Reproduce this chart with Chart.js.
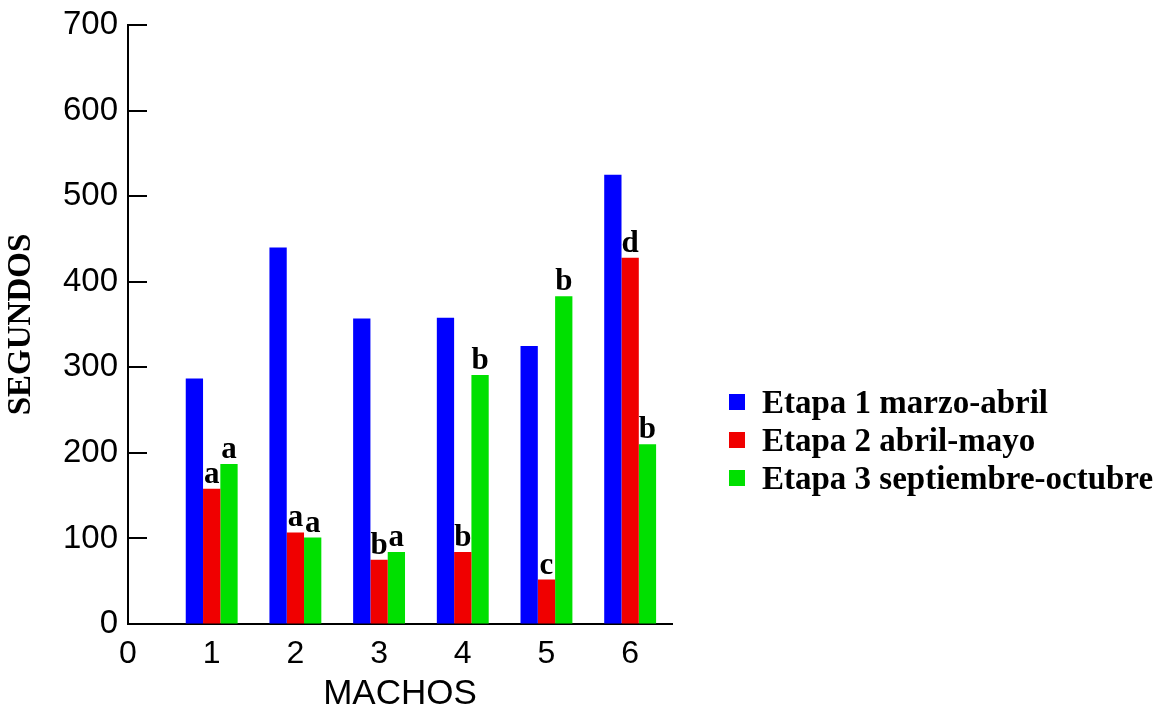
<!DOCTYPE html>
<html>
<head>
<meta charset="utf-8">
<script src="https://cdn.jsdelivr.net/npm/chart.js@4"></script>
<style>
  html, body { margin: 0; padding: 0; background: #fff; }
  #wrap { position: relative; width: 1173px; height: 715px; }
  #legend { position: absolute; left: 729px; top: 383px; font: bold 33px "Liberation Serif", "Times New Roman", serif; color: #000; }
  .item { display: flex; align-items: center; height: 38px; white-space: nowrap; }
  .box { width: 16px; height: 16px; margin-right: 17px; }
</style>
</head>
<body>
<div id="wrap">
  <canvas id="chart" width="1173" height="715"></canvas>
  <div id="legend"></div>
</div>
<script>
// machos 1..6, tiempo en segundos por etapa
const machos = [1, 2, 3, 4, 5, 6];
const etapa1 = [287, 440, 357, 358, 325, 525];
const etapa2 = [158, 107, 75, 84, 52, 428];
const etapa3 = [187, 101, 84, 291, 383, 210];
const letras2 = ['a', 'a', 'b', 'b', 'c', 'd'];
const letras3 = ['a', 'a', 'a', 'b', 'b', 'b'];
const nombres = ['Etapa 1 marzo-abril', 'Etapa 2 abril-mayo', 'Etapa 3 septiembre-octubre'];
const colores = ['#0000ff', '#f00000', '#00e000'];
const xTicks = [0, 1, 2, 3, 4, 5, 6];

function puntos(vals) {
    return machos.map((m, i) => ({ x: m, y: vals[i] }));
}

// letters over the bars
const letrasPlugin = {
    id: 'letras',
    afterDatasetsDraw(chart) {
        const ctx = chart.ctx;
        ctx.save();
        ctx.font = 'bold 31px "Liberation Serif", serif';
        ctx.fillStyle = '#000';
        ctx.textAlign = 'center';
        ctx.textBaseline = 'alphabetic';
        chart.data.datasets.forEach((ds, i) => {
            if (!ds.letras) return;
            chart.getDatasetMeta(i).data.forEach((bar, j) => {
                ctx.fillText(ds.letras[j], bar.x, bar.y - 6);
            });
        });
        ctx.restore();
    }
};

// y ticks pointing into the plot
const ticksDentro = {
    id: 'ticksDentro',
    afterDraw(chart) {
        const y = chart.scales.y;
        const ctx = chart.ctx;
        ctx.save();
        ctx.strokeStyle = '#000';
        ctx.lineWidth = 2;
        y.ticks.forEach(t => {
            if (t.value === 0) return;
            const py = Math.round(y.getPixelForValue(t.value));
            ctx.beginPath();
            ctx.moveTo(y.right, py);
            ctx.lineTo(y.right + 19, py);
            ctx.stroke();
        });
        ctx.restore();
    }
};

const ctx = document.getElementById('chart').getContext('2d');
const chart = new Chart(ctx, {
    type: 'bar',
    data: {
        datasets: [
            { label: nombres[0], data: puntos(etapa1), backgroundColor: colores[0] },
            { label: nombres[1], data: puntos(etapa2), backgroundColor: colores[1], letras: letras2 },
            { label: nombres[2], data: puntos(etapa3), backgroundColor: colores[2], letras: letras3 }
        ]
    },
    options: {
        responsive: false,
        animation: false,
        layout: { padding: { top: 25, right: 501, left: 0, bottom: 0 } },
        datasets: { bar: { categoryPercentage: 0.62, barPercentage: 1 } },
        plugins: {
            legend: { display: false },
            tooltip: { enabled: false }
        },
        scales: {
            x: {
                type: 'linear',
                min: 0,
                max: 6.5,
                offset: false,
                afterBuildTicks: s => { s.ticks = xTicks.map(v => ({ value: v })); },
                afterFit: s => { s.height = 91; },
                ticks: { font: { family: '"Liberation Sans", Arial', size: 32 }, color: '#000', padding: 11 },
                grid: { drawOnChartArea: false, drawTicks: false },
                border: { color: '#000', width: 2 },
                title: { display: true, text: 'MACHOS', color: '#000', font: { family: '"Liberation Sans", Arial', size: 35 }, padding: 0 }
            },
            y: {
                min: 0,
                max: 700,
                afterFit: s => { s.width = 128; s.paddingTop = 0; s.paddingBottom = 0; },
                ticks: { stepSize: 100, font: { family: '"Liberation Sans", Arial', size: 33 }, color: '#000', padding: 10 },
                grid: { drawOnChartArea: false, drawTicks: false },
                border: { color: '#000', width: 2 },
                title: { display: true, text: 'SEGUNDOS', color: '#000', font: { family: '"Liberation Serif", serif', size: 33, weight: 'bold' }, padding: { top: 2, bottom: 0 } }
            }
        }
    },
    plugins: [letrasPlugin, ticksDentro]
});

// legend
const leyenda = document.getElementById('legend');
nombres.forEach((n, i) => {
    const item = document.createElement('div');
    item.className = 'item';
    item.innerHTML = '<span class="box" style="background:' + colores[i] + '"></span><span>' + n + '</span>';
    leyenda.appendChild(item);
});
</script>
</body>
</html>
